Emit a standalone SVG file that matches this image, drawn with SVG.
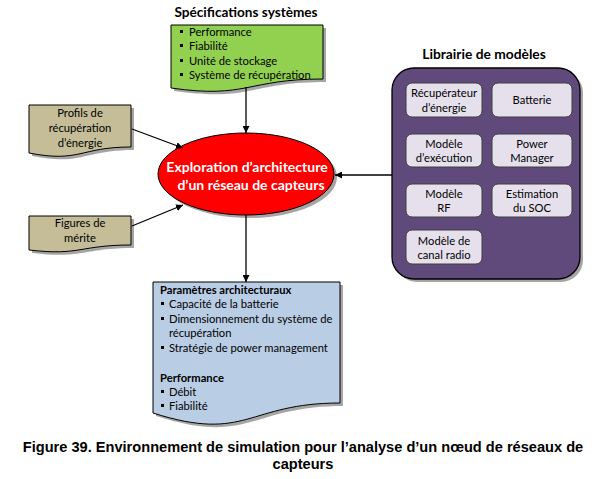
<svg xmlns="http://www.w3.org/2000/svg" width="607" height="479" viewBox="0 0 607 479">
<defs>
<style>
.t{font-family:Lato,"Open Sans","DejaVu Sans",sans-serif;font-size:11.2px;fill:#000}
.b{font-weight:bold}
.c{text-anchor:middle}
.sh{fill:#7f7f7f;opacity:0.7}
.doc{stroke:#000;stroke-width:1}
.in{fill:#E5E0EC;stroke:#3f3f3f;stroke-width:1}
.ln{stroke:#000;stroke-width:1.3;fill:none;marker-end:url(#ah)}
.cap{font-family:"Liberation Sans",Arial,sans-serif;font-weight:bold;font-size:14.6px;text-anchor:middle;fill:#000}
</style>
<marker id="ah" viewBox="0 0 10 10" refX="10" refY="5" markerWidth="7" markerHeight="7" markerUnits="userSpaceOnUse" orient="auto">
<path d="M0,0 L10,5 L0,10 Z" fill="#000"/>
</marker>
</defs>

<g id="specs">
<text class="t b c" x="246" y="17" style="font-size:13.6px">Spécifications systèmes</text>
<path class="sh" d="M174,28 H326 V82 C250,82 250,102 174,91 Z"/>
<path class="doc" fill="#92D050" d="M171,25 H323 V79 C247,79 247,99 171,88 Z"/>
<g class="t">
<rect x="180" y="30" width="3" height="3"/><text x="189" y="36">Performance</text>
<rect x="180" y="44" width="3" height="3"/><text x="189" y="50">Fiabilité</text>
<rect x="180" y="59" width="3" height="3"/><text x="189" y="65">Unité de stockage</text>
<rect x="180" y="73" width="3" height="3"/><text x="189" y="79">Système de récupération</text>
</g>
</g>

<g id="profils">
<path class="sh" d="M32,108 H134 V150 C83,150 83,166 32,156 Z"/>
<path class="doc" fill="#C4BD97" d="M29,105 H131 V147 C80,147 80,163 29,153 Z"/>
<text class="t c" x="80" y="117">Profils de</text>
<text class="t c" x="80" y="132">récupération</text>
<text class="t c" x="80" y="147">d’énergie</text>
</g>

<g id="figures">
<path class="sh" d="M32,219 H134 V248 C83,248 83,259 32,253 Z"/>
<path class="doc" fill="#C4BD97" d="M29,216 H131 V245 C80,245 80,256 29,250 Z"/>
<text class="t c" x="80" y="227">Figures de</text>
<text class="t c" x="80" y="242">mérite</text>
</g>

<g id="exploration">
<ellipse cx="249" cy="177" rx="88" ry="41" fill="#7f7f7f" opacity="0.7"/>
<ellipse cx="246" cy="174" rx="88" ry="41" fill="#FF0000" stroke="#000" stroke-width="1"/>
<text class="t b c" x="247" y="172" style="font-size:14px;fill:#fff">Exploration d’architecture</text>
<text class="t b c" x="251" y="190" style="font-size:14px;fill:#fff">d’un réseau de capteurs</text>
</g>

<g id="librairie">
<text class="t b c" x="484" y="59" style="font-size:13.8px">Librairie de modèles</text>
<rect x="395" y="71" width="188" height="211" rx="22" fill="#7f7f7f" opacity="0.7"/>
<rect x="392" y="68" width="188" height="211" rx="22" fill="#604A7B" stroke="#000" stroke-width="1.3"/>
</g>

<g id="m-recup">
<rect x="406" y="83" width="76" height="34" rx="6" class="in"/>
<text class="t c" x="444" y="97">Récupérateur</text>
<text class="t c" x="444" y="112">d’énergie</text>
</g>
<g id="m-batterie">
<rect x="492" y="83" width="80" height="34" rx="6" class="in"/>
<text class="t c" x="532" y="104">Batterie</text>
</g>
<g id="m-exec">
<rect x="406" y="134" width="76" height="33" rx="6" class="in"/>
<text class="t c" x="444" y="148">Modèle</text>
<text class="t c" x="444" y="162">d’exécution</text>
</g>
<g id="m-power">
<rect x="492" y="134" width="80" height="33" rx="6" class="in"/>
<text class="t c" x="532" y="148">Power</text>
<text class="t c" x="532" y="162">Manager</text>
</g>
<g id="m-rf">
<rect x="406" y="184" width="76" height="33" rx="6" class="in"/>
<text class="t c" x="444" y="198">Modèle</text>
<text class="t c" x="444" y="212">RF</text>
</g>
<g id="m-soc">
<rect x="492" y="184" width="80" height="33" rx="6" class="in"/>
<text class="t c" x="532" y="198">Estimation</text>
<text class="t c" x="532" y="212">du SOC</text>
</g>
<g id="m-canal">
<rect x="406" y="230" width="76" height="34" rx="6" class="in"/>
<text class="t c" x="444" y="245">Modèle de</text>
<text class="t c" x="444" y="259">canal radio</text>
</g>

<g id="parametres">
<path class="sh" d="M156,285 H343 V406 C250,406 250,446 156,416 Z"/>
<path class="doc" fill="#B9CDE5" d="M153,282 H340 V403 C247,403 247,443 153,413 Z"/>
<g class="t">
<text class="b" x="160" y="294">Paramètres architecturaux</text>
<rect x="161" y="302" width="3" height="3"/><text x="169" y="308">Capacité de la batterie</text>
<rect x="161" y="317" width="3" height="3"/><text x="169" y="323">Dimensionnement du système de</text>
<text x="169" y="337">récupération</text>
<rect x="161" y="346" width="3" height="3"/><text x="169" y="352">Stratégie de power management</text>
<text class="b" x="160" y="382">Performance</text>
<rect x="161" y="390" width="3" height="3"/><text x="169" y="396">Débit</text>
<rect x="161" y="404" width="3" height="3"/><text x="169" y="410">Fiabilité</text>
</g>
</g>

<g id="connectors">
<line class="ln" x1="246" y1="87" x2="246" y2="133"/>
<line class="ln" x1="132" y1="129" x2="183" y2="148"/>
<line class="ln" x1="132" y1="226" x2="183" y2="205"/>
<line class="ln" x1="392" y1="175" x2="335" y2="175"/>
<line class="ln" x1="246" y1="215" x2="246" y2="282"/>
</g>

<g id="caption">
<text class="cap" x="303" y="452">Figure 39. Environnement de simulation pour l’analyse d’un nœud de réseaux de</text>
<text class="cap" x="303" y="469">capteurs</text>
</g>
</svg>
